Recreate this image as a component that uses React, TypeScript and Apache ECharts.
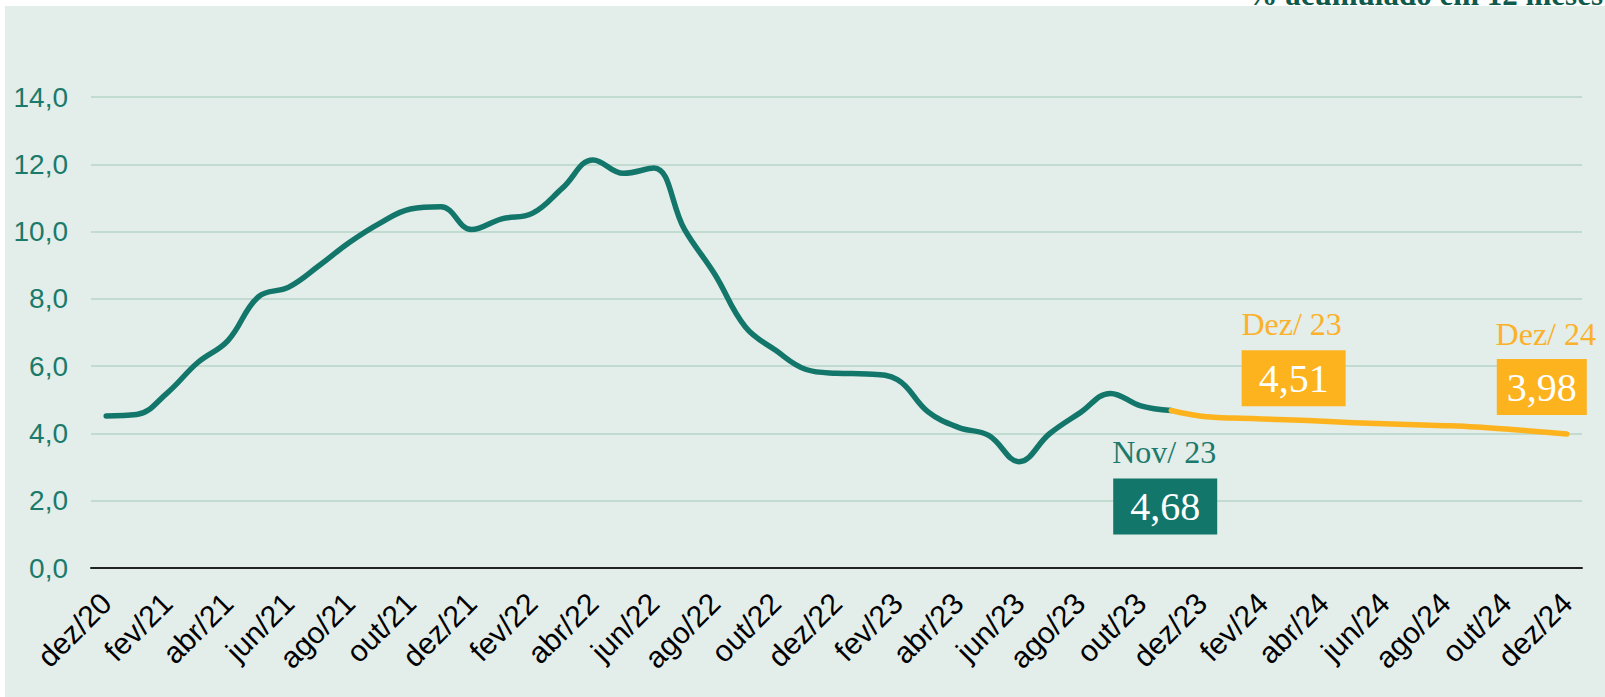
import React, { useEffect, useRef } from 'react';
import * as echarts from 'echarts';

const categories = [
  'dez/20',
  'jan/21', 'fev/21', 'mar/21', 'abr/21', 'mai/21', 'jun/21', 'jul/21', 'ago/21', 'set/21', 'out/21', 'nov/21', 'dez/21',
  'jan/22', 'fev/22', 'mar/22', 'abr/22', 'mai/22', 'jun/22', 'jul/22', 'ago/22', 'set/22', 'out/22', 'nov/22', 'dez/22',
  'jan/23', 'fev/23', 'mar/23', 'abr/23', 'mai/23', 'jun/23', 'jul/23', 'ago/23', 'set/23', 'out/23', 'nov/23', 'dez/23',
  'jan/24', 'fev/24', 'mar/24', 'abr/24', 'mai/24', 'jun/24', 'jul/24', 'ago/24', 'set/24', 'out/24', 'nov/24', 'dez/24',
];

// IPCA realizado, % acumulado em 12 meses (dez/20 a nov/23)
const realized = [
  4.52,
  4.56, 5.2, 6.1, 6.76, 8.06, 8.35, 8.99, 9.68, 10.25, 10.67, 10.74, 10.06,
  10.38, 10.54, 11.3, 12.13, 11.73, 11.89, 10.07, 8.73, 7.17, 6.47, 5.9, 5.79,
  5.77, 5.6, 4.65, 4.18, 3.94, 3.16, 3.99, 4.61, 5.19, 4.82, 4.68,
];

// Projeção (nov/23 a dez/24)
const forecast = [4.68, 4.51, 4.46, 4.43, 4.4, 4.36, 4.32, 4.29, 4.26, 4.23, 4.19, 4.13, 4.06, 3.98];

const yMin = 0;
const yMax = 14;
const yStep = 2;

const topNote = '% acumulado em 12 meses';

const GREEN = '#13766A';
const ORANGE = '#FDB31E';
const SANS = '"Liberation Sans", Arial, sans-serif';
const SERIF = '"Liberation Serif", "Times New Roman", serif';

const fmt = (v: number) => v.toFixed(2).replace('.', ',');

function titleLabel(text: string, color: string, offset: number[]) {
  return {
    show: true,
    position: 'inside',
    offset,
    formatter: text,
    color,
    fontSize: 32,
    fontFamily: SERIF,
  };
}

function boxLabel(text: string, bg: string, offset: number[], padH: number) {
  return {
    show: true,
    position: 'inside',
    offset,
    formatter: text,
    color: '#FFFFFF',
    fontSize: 40,
    lineHeight: 42,
    fontFamily: SERIF,
    backgroundColor: bg,
    padding: [7, padH, 7, padH],
  };
}

export default function App() {
  const ref = useRef<HTMLDivElement>(null);

  useEffect(() => {
    if (!ref.current) return;
    const chart = echarts.init(ref.current, null, { renderer: 'svg' });
    const n = categories.length;
    const greenData = categories.map((_, i) => (i < realized.length ? realized[i] : null));
    const startF = n - forecast.length;
    const orangeData = categories.map((_, i) => (i >= startF ? forecast[i - startF] : null));

    const lastRealCat = categories[realized.length - 1];
    const lastRealVal = realized[realized.length - 1];
    const dez23Cat = categories[startF + 1];
    const dez23Val = forecast[1];
    const dez24Cat = categories[n - 1];
    const dez24Val = forecast[forecast.length - 1];

    const mpBase = {
      symbol: 'circle',
      symbolSize: 1,
      silent: true,
      itemStyle: { color: 'rgba(0,0,0,0)' },
    };

    chart.setOption({
      animation: false,
      backgroundColor: '#E3EDE9',
      graphic: [
        { type: 'rect', shape: { x: 0, y: 0, width: 1605, height: 6 }, style: { fill: '#FFFFFF' }, silent: true },
        { type: 'rect', shape: { x: 0, y: 0, width: 5, height: 697 }, style: { fill: '#FFFFFF' }, silent: true },
        {
          type: 'text',
          x: 1603,
          y: -6,
          silent: true,
          style: {
            text: topNote,
            fill: '#0F5A4C',
            font: 'bold 31px "Liberation Serif"',
            align: 'right',
            verticalAlign: 'middle',
          },
        },
      ],
      grid: { left: 91, right: 23, top: 97, bottom: 129, outerBoundsMode: 'none', containLabel: false },
      xAxis: {
        type: 'category',
        data: categories,
        boundaryGap: true,
        axisLine: { show: true, lineStyle: { color: '#222222', width: 2 } },
        axisTick: { show: false },
        splitLine: { show: false },
        axisLabel: {
          interval: 1,
          rotate: 45,
          color: '#000000',
          fontSize: 30,
          fontFamily: SANS,
          margin: 30,
        },
      },
      yAxis: {
        type: 'value',
        min: yMin,
        max: yMax,
        interval: yStep,
        axisLine: { show: false },
        axisTick: { show: false },
        splitLine: { lineStyle: { color: '#B7D4C8', width: 1.5 } },
        axisLabel: {
          formatter: (v: number) => v.toFixed(1).replace('.', ','),
          color: '#1A7A6B',
          fontSize: 28,
          fontFamily: SANS,
          margin: 23,
        },
      },
      series: [
        {
          name: 'Realizado',
          type: 'line',
          data: greenData,
          smooth: 0.4,
          showSymbol: false,
          silent: true,
          lineStyle: { color: GREEN, width: 5.5, cap: 'round', join: 'round' },
          markPoint: {
            ...mpBase,
            data: [
              { coord: [lastRealCat, lastRealVal], label: titleLabel('Nov/ 23', '#1B7A6C', [-7, 41]) },
              { coord: [lastRealCat, lastRealVal], label: boxLabel(fmt(lastRealVal), GREEN, [-6, 96], 17) },
            ],
          },
        },
        {
          name: 'Projeção',
          type: 'line',
          data: orangeData,
          smooth: 0.4,
          showSymbol: false,
          silent: true,
          lineStyle: { color: ORANGE, width: 5.5, cap: 'round', join: 'round' },
          markPoint: {
            ...mpBase,
            data: [
              { coord: [dez23Cat, dez23Val], label: titleLabel('Dez/ 23', '#FBB12A', [90, -92]) },
              { coord: [dez23Cat, dez23Val], label: boxLabel(fmt(dez23Val), ORANGE, [92, -38], 17) },
              { coord: [dez24Cat, dez24Val], label: titleLabel('Dez/ 24', '#FBB12A', [-21, -100]) },
              { coord: [dez24Cat, dez24Val], label: boxLabel(fmt(dez24Val), ORANGE, [-25, -47], 10) },
            ],
          },
        },
      ],
    });
    return () => chart.dispose();
  }, []);

  return (
    <div
      ref={ref}
      style={{ position: 'fixed', left: 0, top: 0, width: 1605, height: 697 }}
    />
  );
}
